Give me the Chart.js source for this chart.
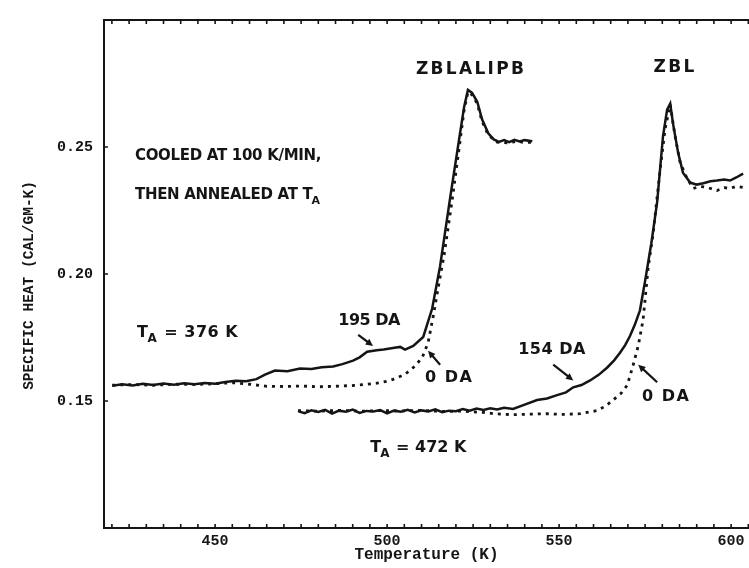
<!DOCTYPE html>
<html>
<head>
<meta charset="utf-8">
<script src="https://cdn.jsdelivr.net/npm/chart.js@4.4.1/dist/chart.umd.min.js"></script>
<style>
  html, body { margin: 0; padding: 0; background: #ffffff; }
  canvas { display: block; }
</style>
</head>
<body>
<canvas id="cp" width="749" height="568"></canvas>
<script>
// ZBLALIPB glass, annealed 195 days at T_A = 376 K (solid)
const tempZbla195 = [420.1, 423, 426, 429, 432, 435, 438, 441, 444, 447, 450, 453, 456, 459, 462, 464.5, 467.4, 471, 474.7, 478, 481, 484.3, 487, 490.1, 492, 494.2, 497, 499, 501.7, 503.8, 505.2, 507.6, 510.5, 513.1, 515.4, 518.3, 521.2, 522.4, 523.5, 524.7, 526.2, 527.6, 529.4, 531, 532.5, 534, 535.5, 537, 538.5, 540, 542.2];
const cpZbla195 = [0.1560, 0.1566, 0.1561, 0.1568, 0.1563, 0.1569, 0.1564, 0.1570, 0.1566, 0.1571, 0.1568, 0.1575, 0.1580, 0.1578, 0.1586, 0.1604, 0.1620, 0.1617, 0.1628, 0.1626, 0.1633, 0.1636, 0.1645, 0.1659, 0.1672, 0.1694, 0.1700, 0.1703, 0.1709, 0.1713, 0.1702, 0.1717, 0.1752, 0.1864, 0.2031, 0.2298, 0.2554, 0.2659, 0.2725, 0.2713, 0.2678, 0.2609, 0.2554, 0.2530, 0.2520, 0.2527, 0.2519, 0.2528, 0.2522, 0.2527, 0.2523];

// ZBLALIPB glass, not annealed (dashed)
const tempZbla0 = [420.1, 426, 432, 438, 444, 450, 455.2, 460, 465, 470, 475, 480, 485, 490, 494.2, 497, 500, 501.7, 505.2, 508, 510.2, 511.9, 513.3, 514.8, 516.6, 518.9, 521.2, 522.4, 523.5, 524.7, 526.2, 527.6, 529.4, 532, 534.9, 537.8, 540, 542.2];
const cpZbla0 = [0.1562, 0.1565, 0.1562, 0.1566, 0.1565, 0.1568, 0.1572, 0.1566, 0.1558, 0.1557, 0.1559, 0.1556, 0.1558, 0.1561, 0.1566, 0.1570, 0.1578, 0.1585, 0.1605, 0.1636, 0.1671, 0.1729, 0.1826, 0.1942, 0.2078, 0.2291, 0.2523, 0.2647, 0.2717, 0.2705, 0.2671, 0.2601, 0.2547, 0.2519, 0.2516, 0.2523, 0.2517, 0.2519];

// ZBL glass, annealed 154 days at T_A = 472 K (solid)
const tempZbl154 = [474.1, 476, 478, 480, 482, 484, 486, 488, 490, 492, 494, 496, 498, 500, 502, 504, 506, 508, 510, 512, 514, 516, 518, 520, 522, 524, 526, 528, 530, 532, 534, 536.6, 540, 543.6, 546.5, 549.4, 552, 554.1, 556.5, 559, 561.5, 564, 566, 567.7, 569.2, 570.6, 572, 573.5, 575, 576.8, 578.5, 580.2, 581.4, 582.3, 583.1, 584.6, 586, 588.1, 590, 591.9, 594, 595.9, 598, 599.7, 601.5, 603.5];
const cpZbl154 = [0.1460, 0.1452, 0.1463, 0.1457, 0.1465, 0.1450, 0.1462, 0.1458, 0.1466, 0.1453, 0.1461, 0.1459, 0.1464, 0.1451, 0.1462, 0.1458, 0.1465, 0.1455, 0.1463, 0.1459, 0.1467, 0.1456, 0.1462, 0.1460, 0.1468, 0.1462, 0.1470, 0.1465, 0.1471, 0.1467, 0.1473, 0.1469, 0.1486, 0.1504, 0.1510, 0.1523, 0.1534, 0.1554, 0.1563, 0.1581, 0.1603, 0.1632, 0.1660, 0.1690, 0.1720, 0.1756, 0.1800, 0.1857, 0.1973, 0.2120, 0.2283, 0.2543, 0.2647, 0.2671, 0.2593, 0.2477, 0.2399, 0.2360, 0.2352, 0.2357, 0.2365, 0.2368, 0.2372, 0.2368, 0.2380, 0.2395];

// ZBL glass, not annealed (dashed)
const tempZbl0 = [474.1, 480, 486, 492, 498, 504, 510, 516, 522, 528, 531, 536.6, 541, 546.5, 551, 556.1, 558.5, 561, 563.5, 565.7, 568, 569.8, 571.5, 573, 574.4, 575.9, 577.3, 579.4, 580.8, 582.3, 583.7, 585.2, 587.2, 589, 591, 593, 595.9, 598, 599.7, 601.5, 603.5];
const cpZbl0 = [0.1462, 0.1460, 0.1463, 0.1460, 0.1462, 0.1461, 0.1463, 0.1459, 0.1460, 0.1455, 0.1450, 0.1446, 0.1448, 0.1450, 0.1447, 0.1450, 0.1456, 0.1462, 0.1480, 0.1504, 0.1530, 0.1562, 0.1640, 0.1717, 0.1818, 0.2027, 0.2155, 0.2415, 0.2570, 0.2667, 0.2543, 0.2438, 0.2376, 0.2337, 0.2345, 0.2341, 0.2329, 0.2340, 0.2337, 0.2345, 0.2341];

// Axis ticks
const xTickValues = [450, 500, 550, 600];
const yTickValues = [0.15, 0.20, 0.25];

const INK = '#151515';
const pairs = (xs, ys) => xs.map((v, i) => ({ x: v, y: ys[i] }));

function curve(label, xs, ys, dashed) {
  return {
    label,
    data: pairs(xs, ys),
    showLine: true,
    borderColor: INK,
    borderWidth: dashed ? 2.8 : 2.5,
    borderDash: dashed ? [3, 5] : [],
    pointRadius: 0,
    tension: 0,
    fill: false
  };
}

// Frame with inward tick marks, drawn on the chart's own scales
const framePlugin = {
  id: 'frame',
  afterDatasetsDraw(chart) {
    const { ctx, chartArea: a, scales: { x, y } } = chart;
    ctx.save();
    ctx.strokeStyle = INK;
    ctx.lineWidth = 2;
    ctx.beginPath();
    ctx.moveTo(a.right + 2, a.top);
    ctx.lineTo(a.left, a.top);
    ctx.lineTo(a.left, a.bottom);
    ctx.lineTo(a.right + 2, a.bottom);
    ctx.stroke();
    ctx.lineWidth = 1.6;
    ctx.beginPath();
    for (let t = 420; t <= x.max; t += 5) {
      const px = x.getPixelForValue(t);
      ctx.moveTo(px, a.bottom); ctx.lineTo(px, a.bottom - 4);
      ctx.moveTo(px, a.top); ctx.lineTo(px, a.top + 4);
    }
    for (const v of yTickValues) {
      const py = y.getPixelForValue(v);
      ctx.moveTo(a.left, py); ctx.lineTo(a.left + 4, py);
    }
    ctx.stroke();

    // vertical axis title
    ctx.fillStyle = INK;
    ctx.font = 'bold 14.5px "Liberation Mono"';
    ctx.textAlign = 'center';
    ctx.textBaseline = 'middle';
    ctx.translate(29, y.getPixelForValue(0.1955));
    ctx.rotate(-Math.PI / 2);
    ctx.fillText('SPECIFIC HEAT (CAL/GM-K)', 0, 0);
    ctx.restore();
  }
};

// Hand-lettered labels and arrows placed in data coordinates
const notes = [
  { t: 524.4, c: 0.2806, text: 'ZBLALIPB', align: 'center', size: 17, sp: 2.3 },
  { t: 583.7, c: 0.2814, text: 'ZBL', align: 'center', size: 17, sp: 2.3 },
  { t: 426.7, c: 0.2465, text: 'COOLED AT 100 K/MIN,', align: 'left', size: 15, sp: -0.3 },
  { t: 426.7, c: 0.2310, text: 'THEN ANNEALED AT T|A', align: 'left', size: 15, sp: -0.3 },
  { t: 427.3, c: 0.1767, text: 'T|A = 376 K', align: 'left', size: 16, sp: 0.5 },
  { t: 485.8, c: 0.1814, text: '195 DA', align: 'left', size: 16, sp: -0.5 },
  { t: 511.0, c: 0.1593, text: '0 DA', align: 'left', size: 16, sp: 1.5 },
  { t: 538.1, c: 0.1702, text: '154 DA', align: 'left', size: 16, sp: 0.5 },
  { t: 574.1, c: 0.1516, text: '0 DA', align: 'left', size: 16, sp: 1.5 },
  { t: 495.1, c: 0.1314, text: 'T|A = 472 K', align: 'left', size: 16, sp: 0 }
];
const arrows = [
  [491.6, 0.1760, 495.9, 0.1717],
  [515.4, 0.1643, 511.9, 0.1698],
  [548.3, 0.1643, 554.1, 0.1581],
  [578.5, 0.1574, 573.0, 0.1643]
];

const notePlugin = {
  id: 'notes',
  afterDraw(chart) {
    const { ctx, scales: { x, y } } = chart;
    ctx.save();
    ctx.fillStyle = INK;
    ctx.strokeStyle = INK;
    ctx.textBaseline = 'middle';
    for (const n of notes) {
      const big = `bold ${n.size}px "DejaVu Sans"`;
      const small = `bold ${Math.round(n.size * 0.72)}px "DejaVu Sans"`;
      ctx.letterSpacing = n.sp + 'px';
      const px = x.getPixelForValue(n.t);
      const py = y.getPixelForValue(n.c);
      // "T|A" marks a subscript A
      const parts = n.text.split('|');
      ctx.font = big;
      let w = ctx.measureText(parts[0]).width;
      let rest = '';
      if (parts.length > 1) {
        ctx.font = small;
        w += ctx.measureText(parts[1][0]).width;
        rest = parts[1].slice(1);
        ctx.font = big;
        w += ctx.measureText(rest).width;
      }
      let cx = n.align === 'center' ? px - w / 2 : px;
      ctx.textAlign = 'left';
      ctx.font = big;
      ctx.fillText(parts[0], cx, py);
      cx += ctx.measureText(parts[0]).width;
      if (parts.length > 1) {
        ctx.font = small;
        ctx.fillText(parts[1][0], cx - 1, py + 6);
        cx += ctx.measureText(parts[1][0]).width;
        ctx.font = big;
        ctx.fillText(rest, cx, py);
      }
    }
    ctx.letterSpacing = '0px';
    ctx.lineWidth = 2.2;
    for (const [t0, c0, t1, c1] of arrows) {
      const x0 = x.getPixelForValue(t0), y0 = y.getPixelForValue(c0);
      const x1 = x.getPixelForValue(t1), y1 = y.getPixelForValue(c1);
      const ang = Math.atan2(y1 - y0, x1 - x0);
      ctx.beginPath();
      ctx.moveTo(x0, y0);
      ctx.lineTo(x1 - 4 * Math.cos(ang), y1 - 4 * Math.sin(ang));
      ctx.stroke();
      ctx.beginPath();
      ctx.moveTo(x1, y1);
      ctx.lineTo(x1 - 8 * Math.cos(ang - 0.45), y1 - 8 * Math.sin(ang - 0.45));
      ctx.lineTo(x1 - 8 * Math.cos(ang + 0.45), y1 - 8 * Math.sin(ang + 0.45));
      ctx.closePath();
      ctx.fill();
    }
    ctx.restore();
  }
};

const monoFont = { family: '"Liberation Mono", "DejaVu Sans Mono", monospace', size: 15, weight: 'bold' };

new Chart(document.getElementById('cp'), {
  type: 'scatter',
  data: {
    datasets: [
      curve('ZBLALIPB 0 DA', tempZbla0, cpZbla0, true),
      curve('ZBLALIPB 195 DA', tempZbla195, cpZbla195, false),
      curve('ZBL 0 DA', tempZbl0, cpZbl0, true),
      curve('ZBL 154 DA', tempZbl154, cpZbl154, false)
    ]
  },
  options: {
    responsive: false,
    animation: false,
    events: [],
    layout: { padding: { top: 12, right: 0, bottom: 0, left: 0 } },
    plugins: { legend: { display: false }, tooltip: { enabled: false } },
    scales: {
      x: {
        type: 'linear',
        min: 417.7,
        max: 605.2,
        grid: { display: false, drawTicks: false },
        border: { display: false },
        afterBuildTicks: s => { s.ticks = xTickValues.map(v => ({ value: v })); },
        afterFit: s => { s.height = 40; },
        ticks: { font: monoFont, color: INK, padding: 4, maxRotation: 0, autoSkip: false },
        title: {
          display: true,
          text: 'Temperature (K)',
          color: INK,
          font: { family: '"Liberation Mono", monospace', size: 16, weight: 'bold' },
          padding: { top: 0, bottom: 3 }
        }
      },
      y: {
        type: 'linear',
        min: 0.10,
        max: 0.30,
        grid: { display: false, drawTicks: false },
        border: { display: false },
        afterBuildTicks: s => { s.ticks = yTickValues.map(v => ({ value: v })); },
        afterFit: s => { s.width = 104; },
        ticks: { font: monoFont, color: INK, padding: 11, callback: v => v.toFixed(2) }
      }
    }
  },
  plugins: [framePlugin, notePlugin]
});
</script>
</body>
</html>
